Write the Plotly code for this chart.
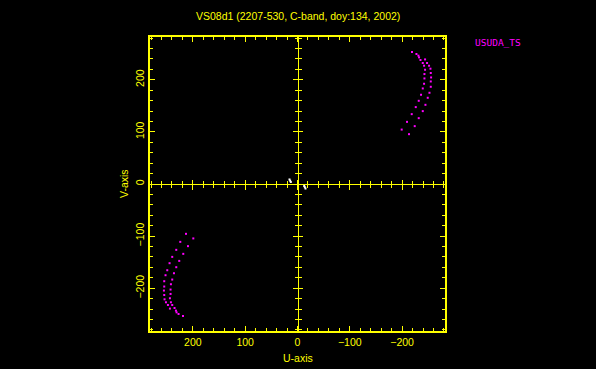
import plotly.graph_objects as go

# uv data (kilo-lambda): upper-right arcs for USUDA_TS baseline
u_inner = [-218.9, -231.2, -235.1, -239.5, -242.0, -243.9, -242.7, -242.7, -242.0,
           -239.5, -236.2, -231.8, -226.1, -218.4, -209.4, -199.2]
v_inner = [253.3, 246.2, 237.9, 232.1, 226.9, 219.2, 210.9, 202.5, 192.3,
           183.3, 171.2, 159.6, 147.5, 134.0, 119.2, 104.4]
u_outer = [-227.4, -232.4, -243.9, -247.7, -251.5, -254.2, -254.8, -255.4, -254.8,
           -254.8, -252.3, -249.0, -244.6, -239.5, -231.8, -224.1, -213.2]
v_outer = [249.4, 242.9, 239.0, 232.1, 226.9, 221.2, 212.9, 204.4, 196.7,
           186.5, 175.0, 165.4, 151.9, 139.8, 126.3, 111.0, 95.6]
# short baseline points near the origin (white)
u_short = [15.3, 14.0, 12.8]
v_short = [8.7, 6.2, 3.8]

x_ticks = [200, 100, 0, -100, -200]
y_ticks = [-200, -100, 0, 100, 200]
axis_range = [-282, 282]

title_text = "VS08d1 (2207-530, C-band, doy:134, 2002)"
legend_text = "USUDA_TS"
x_title = "U-axis"
y_title = "V-axis"

YEL = "#FFFF00"
MAG = "#FF00FF"
FONT = "Liberation Sans"

u_all = u_inner + u_outer
v_all = v_inner + v_outer

fig = go.Figure()
fig.add_trace(go.Scatter(x=u_all + [-a for a in u_all], y=v_all + [-b for b in v_all],
                         mode="markers",
                         marker=dict(symbol="square", size=2, color=MAG, line=dict(width=0)),
                         showlegend=False, hoverinfo="skip"))
fig.add_trace(go.Scatter(x=u_short + [-a for a in u_short], y=v_short + [-b for b in v_short],
                         mode="markers",
                         marker=dict(symbol="square", size=2, color="white", line=dict(width=0)),
                         showlegend=False, hoverinfo="skip"))
# helper empty traces so the centre axes exist
fig.add_trace(go.Scatter(x=[], y=[], xaxis="x2", yaxis="y2", showlegend=False))
fig.add_trace(go.Scatter(x=[], y=[], xaxis="x3", yaxis="y3", showlegend=False))

common_main = dict(showgrid=False, zeroline=False, showline=True, linecolor=YEL, linewidth=2,
                   mirror="ticks", ticks="inside", ticklen=5, tickwidth=1, tickcolor=YEL,
                   tickmode="array",
                   minor=dict(ticks="inside", ticklen=3, tickwidth=1, tickcolor=YEL, dtick=20,
                              tick0=0, showgrid=False),
                   tickfont=dict(family=FONT, size=10.5, color=YEL))

fig.update_layout(
    width=596, height=369,
    paper_bgcolor="black", plot_bgcolor="black",
    margin=dict(l=150, r=151, t=37, b=38),
    showlegend=False,
    xaxis=dict(range=[axis_range[1], axis_range[0]], tickvals=x_ticks,
               ticktext=[str(t).replace("-", "\u2212") for t in x_ticks], **common_main),
    yaxis=dict(range=axis_range, tickvals=y_ticks, tickangle=-90,
               ticktext=[str(t).replace("-", "\u2212") for t in y_ticks], **common_main),
)

center_common = dict(showgrid=False, zeroline=False, showticklabels=False, tickcolor=YEL,
                     tickwidth=1, tickmode="array", anchor="free", position=0.5)
fig.update_layout(
    xaxis2=dict(overlaying="x", range=[axis_range[1], axis_range[0]], tickvals=x_ticks,
                ticks="inside", ticklen=4.5, showline=True, linecolor=YEL, linewidth=1,
                minor=dict(ticks="inside", ticklen=3, tickwidth=1, tickcolor=YEL, dtick=20, tick0=0),
                **center_common),
    xaxis3=dict(overlaying="x", range=[axis_range[1], axis_range[0]], tickvals=x_ticks,
                ticks="outside", ticklen=4.5, showline=False,
                minor=dict(ticks="outside", ticklen=3, tickwidth=1, tickcolor=YEL, dtick=20, tick0=0),
                **center_common),
    yaxis2=dict(overlaying="y", range=axis_range, tickvals=y_ticks,
                ticks="inside", ticklen=4.5, showline=True, linecolor=YEL, linewidth=1,
                minor=dict(ticks="inside", ticklen=3, tickwidth=1, tickcolor=YEL, dtick=20, tick0=0),
                **center_common),
    yaxis3=dict(overlaying="y", range=axis_range, tickvals=y_ticks,
                ticks="outside", ticklen=4.5, showline=False,
                minor=dict(ticks="outside", ticklen=3, tickwidth=1, tickcolor=YEL, dtick=20, tick0=0),
                **center_common),
)

fig.add_annotation(text=title_text, xref="paper", yref="paper", x=0.5, y=1,
                   yshift=21, xanchor="center", yanchor="middle", showarrow=False,
                   font=dict(family=FONT, size=10.5, color=YEL))
fig.add_annotation(text=legend_text, xref="paper", yref="paper", x=1, y=1,
                   xshift=28, yshift=-5, xanchor="left", yanchor="middle", showarrow=False,
                   font=dict(family="DejaVu Sans Mono", size=9.5, color=MAG))
fig.add_annotation(text=x_title, xref="paper", yref="paper", x=0.5, y=0,
                   yshift=-27, xanchor="center", yanchor="middle", showarrow=False,
                   font=dict(family=FONT, size=10.5, color=YEL))
fig.add_annotation(text=y_title, xref="paper", yref="paper", x=0, y=0.5,
                   xshift=-26, xanchor="center", yanchor="middle", textangle=-90, showarrow=False,
                   font=dict(family=FONT, size=10.5, color=YEL))

fig.write_html("out.html", config={"displayModeBar": False},
               post_script="document.body.style.margin='0';document.body.style.overflow='hidden';"
                           "document.documentElement.style.overflow='hidden';document.body.style.background='black';")
